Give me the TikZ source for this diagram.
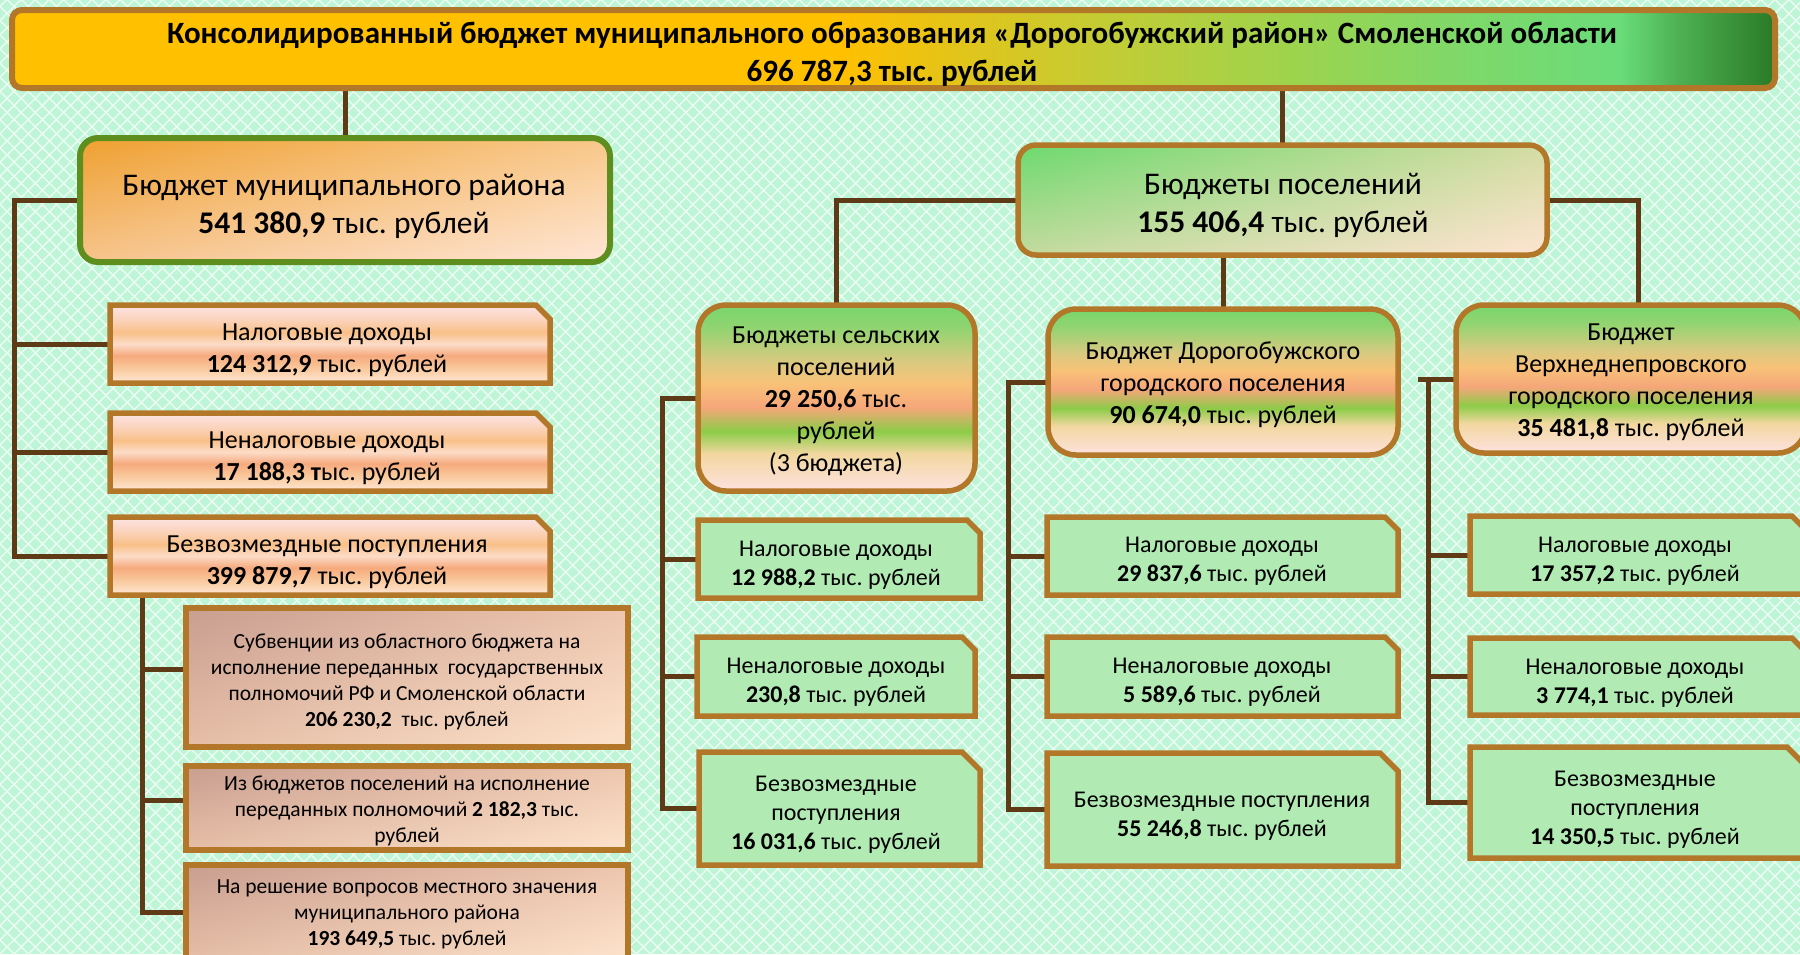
\documentclass[tikz,border=0pt]{standalone}
\usepackage{fontspec}
\setmainfont{Carlito}
\usetikzlibrary{shadings,patterns.meta}
\frenchspacing
\definecolor{bgC}{HTML}{BFF5D7}
\definecolor{bordC}{HTML}{B3772A}
\definecolor{connC}{HTML}{5E3A16}
\definecolor{grC}{HTML}{B1EBB3}
\definecolor{mrB}{HTML}{5E8E1E}
% banner
\definecolor{bA}{HTML}{FFC000}\definecolor{bB}{HTML}{E4C418}\definecolor{bC}{HTML}{C4CC34}
\definecolor{bD}{HTML}{9CD44E}\definecolor{bE}{HTML}{80D868}\definecolor{bF}{HTML}{6ADC7A}
\definecolor{bG}{HTML}{4CB052}\definecolor{bH}{HTML}{2A7A26}
\pgfdeclarehorizontalshading{bannershade}{100bp}{color(0bp)=(bA); color(25bp)=(bA); color(48.5bp)=(bA); color(51.6bp)=(bB); color(55.9bp)=(bC); color(61.5bp)=(bD); color(65.8bp)=(bE); color(70.6bp)=(bF); color(72.3bp)=(bG); color(75bp)=(bH); color(100bp)=(bH)}
% orange stripes
\definecolor{oa}{HTML}{FDE4E6}\definecolor{ob}{HTML}{FBD2B8}\definecolor{oc}{HTML}{F9C088}
\definecolor{od}{HTML}{FCDCC8}\definecolor{oe}{HTML}{F6AA7E}\definecolor{of}{HTML}{F9C79A}
\definecolor{og}{HTML}{FFE8D6}
\pgfdeclareverticalshading{orstripe}{100bp}{color(0bp)=(og); color(25bp)=(og); color(35bp)=(of); color(42.5bp)=(oe); color(50bp)=(od); color(57.5bp)=(oc); color(65bp)=(ob); color(75bp)=(oa); color(100bp)=(oa)}
% green stripes
\definecolor{ga}{HTML}{78D66C}\definecolor{gb}{HTML}{90D470}\definecolor{gc}{HTML}{D8CA80}
\definecolor{gd}{HTML}{F8C278}\definecolor{ge}{HTML}{F6A67A}\definecolor{gf}{HTML}{8CCC48}
\definecolor{gg}{HTML}{F2D7A0}\definecolor{gh}{HTML}{FDE2E0}
\pgfdeclareverticalshading{grstripe}{100bp}{color(0bp)=(gh); color(25bp)=(gh); color(35bp)=(gg); color(41bp)=(gf); color(47.5bp)=(ge); color(54bp)=(gd); color(60bp)=(gc); color(69bp)=(gb); color(75bp)=(ga); color(100bp)=(ga)}
% diagonal fills
\definecolor{mA}{HTML}{EFA030}\definecolor{mB}{HTML}{F8C88A}\definecolor{mC}{HTML}{F6C48C}\definecolor{mD}{HTML}{FFE6D6}
\definecolor{pA}{HTML}{6CDA6E}\definecolor{pB}{HTML}{D4DCA2}\definecolor{pC}{HTML}{C4DA9E}\definecolor{pD}{HTML}{FFE4D2}
\definecolor{sA}{HTML}{C89E90}\definecolor{sB}{HTML}{EEC6AE}\definecolor{sC}{HTML}{E6BEA6}\definecolor{sD}{HTML}{FDE3CC}
\newcommand\chamf[3]{%
  \path[#3] (#1.south west) -- (#1.north west) -- ([xshift=-#2pt]#1.north east) -- ([yshift=-#2pt]#1.north east) -- (#1.south east) -- cycle;}
\tikzset{
  ph/.style={rectangle, inner sep=0pt, outer sep=0pt, draw=none, fill=none},
  boxline/.style={draw=bordC, line width=5.5pt, line join=miter},
  conn/.style={draw=connC, line width=5pt, line cap=rect},
  txt/.style={align=center, inner sep=0pt, text=black},
  tTitle/.style={txt, font=\fontsize{31}{38}\selectfont\bfseries},
  tBig/.style={txt, font=\fontsize{31.5}{38}\selectfont},
  tMid/.style={txt, font=\fontsize{26}{32}\selectfont},
  tGrn/.style={txt, font=\fontsize{24}{29}\selectfont},
  tSmall/.style={txt, font=\fontsize{21.5}{26}\selectfont},
}
\begin{document}
\begin{tikzpicture}[x=1pt,y=-1pt]
\useasboundingbox (0,0) rectangle (1800,954);
\clip (0,0) rectangle (1800,954);
% background
\fill[bgC] (0,0) rectangle (1800,954);
\fill[pattern={Lines[angle=45,distance=10pt,line width=1.4pt]}, pattern color=white!70!bgC] (0,0) rectangle (1800,954);
\fill[pattern={Lines[angle=-45,distance=10pt,line width=1.4pt]}, pattern color=white!70!bgC] (0,0) rectangle (1800,954);

% placeholders
\node[ph, minimum width=1763, minimum height=78] (ban) at (893.5,49) {};
\node[ph, minimum width=530, minimum height=124] (mr) at (345,200) {};
\node[ph, minimum width=529, minimum height=110] (bp) at (1282.5,200) {};
\node[ph, minimum width=440, minimum height=78] (nal1) at (330,344) {};
\node[ph, minimum width=440, minimum height=78] (nen1) at (330,452) {};
\node[ph, minimum width=440, minimum height=78] (bez1) at (330,556) {};
\node[ph, minimum width=442, minimum height=139] (sub1) at (407,677.5) {};
\node[ph, minimum width=442, minimum height=84] (sub2) at (407,808) {};
\node[ph, minimum width=442, minimum height=95] (sub3) at (407,912.5) {};
\node[ph, minimum width=277, minimum height=186] (sel) at (836.5,398) {};
\node[ph, minimum width=282, minimum height=78] (sg1) at (839,559) {};
\node[ph, minimum width=278, minimum height=79] (sg2) at (836,676.5) {};
\node[ph, minimum width=281, minimum height=113] (sg3) at (839.5,808.5) {};
\node[ph, minimum width=350, minimum height=146] (dor) at (1223,382) {};
\node[ph, minimum width=351, minimum height=78] (dg1) at (1222.5,556) {};
\node[ph, minimum width=351, minimum height=79] (dg2) at (1222.5,676.5) {};
\node[ph, minimum width=351, minimum height=113] (dg3) at (1222.5,809.5) {};
\node[ph, minimum width=350, minimum height=148] (ver) at (1631,379) {};
\node[ph, minimum width=335, minimum height=78] (vg1) at (1637.5,555) {};
\node[ph, minimum width=335, minimum height=77] (vg2) at (1637.5,676.5) {};
\node[ph, minimum width=335, minimum height=111] (vg3) at (1637.5,802.5) {};

\coordinate (L1) at (14,556);
\coordinate (L2) at (142,912.5);
\coordinate (L3) at (662,808.5);
\coordinate (L4) at (1008,809.5);
\coordinate (L5) at (1428,802.5);

% connectors
\draw[conn] (mr.north |- ban.south) -- (mr.north);
\draw[conn] (bp.north |- ban.south) -- (bp.north);
\draw[conn] (mr.west) -| (L1) -- (bez1.west);
\draw[conn] (nal1.west) -- (nal1.west -| L1);
\draw[conn] (nen1.west) -- (nen1.west -| L1);
\draw[conn] (bez1.south -| L2) -- (L2) -- (sub3.west);
\draw[conn] ([yshift=8.5pt]sub1.west) -- ([yshift=8.5pt]sub1.west -| L2);
\draw[conn] ([yshift=8pt]sub2.west) -- ([yshift=8pt]sub2.west -| L2);
\draw[conn] (bp.west) -| (sel.north);
\draw[conn] (sel.west) -| (L3) -- (sg3.west);
\draw[conn] (sg1.west) -- (sg1.west -| L3);
\draw[conn] (sg2.west) -- (sg2.west -| L3);
\draw[conn] (dor.north |- bp.south) -- (dor.north);
\draw[conn] (dor.west) -| (L4) -- (dg3.west);
\draw[conn] (dg1.west) -- (dg1.west -| L4);
\draw[conn] (dg2.west) -- (dg2.west -| L4);
\draw[conn] (bp.east) -| ([xshift=7pt]ver.north);
\draw[conn] (ver.west) -- ++(-36,0);
\draw[conn] (ver.west -| L5) -- (L5) -- (vg3.west);
\draw[conn] (vg1.west) -- (vg1.west -| L5);
\draw[conn] (vg2.west) -- (vg2.west -| L5);

% boxes
\shadedraw[boxline, line width=6pt, rounded corners=10pt, shading=bannershade] (ban.north west) rectangle (ban.south east);
\shadedraw[draw=mrB, line width=6pt, rounded corners=18pt, upper left=mA, upper right=mB, lower left=mC, lower right=mD] (mr.north west) rectangle (mr.south east);
\shadedraw[boxline, rounded corners=18pt, upper left=pA, upper right=pB, lower left=pC, lower right=pD] (bp.north west) rectangle (bp.south east);
\chamf{nal1}{14}{boxline, shade, shading=orstripe}
\chamf{nen1}{14}{boxline, shade, shading=orstripe}
\chamf{bez1}{14}{boxline, shade, shading=orstripe}
\shadedraw[boxline, upper left=sA, upper right=sB, lower left=sC, lower right=sD] (sub1.north west) rectangle (sub1.south east);
\shadedraw[boxline, upper left=sA, upper right=sB, lower left=sC, lower right=sD] (sub2.north west) rectangle (sub2.south east);
\shadedraw[boxline, upper left=sA, upper right=sB, lower left=sC, lower right=sD] (sub3.north west) rectangle (sub3.south east);
\shadedraw[boxline, rounded corners=28pt, shading=grstripe] (sel.north west) rectangle (sel.south east);
\shadedraw[boxline, rounded corners=28pt, shading=grstripe] (dor.north west) rectangle (dor.south east);
\shadedraw[boxline, rounded corners=28pt, shading=grstripe] (ver.north west) rectangle (ver.south east);
\chamf{sg1}{13}{boxline, fill=grC}
\chamf{sg2}{13}{boxline, fill=grC}
\chamf{sg3}{18}{boxline, fill=grC}
\chamf{dg1}{13}{boxline, fill=grC}
\chamf{dg2}{13}{boxline, fill=grC}
\chamf{dg3}{18}{boxline, fill=grC}
\chamf{vg1}{13}{boxline, fill=grC}
\chamf{vg2}{13}{boxline, fill=grC}
\chamf{vg3}{18}{boxline, fill=grC}

% texts
\node[tTitle] (bant) at (892,54) {Консолидированный бюджет муниципального образования «Дорогобужский район» Смоленской области\\696 787,3 тыс. рублей};
\node[tBig] (mrt) at (344,206) {Бюджет муниципального района\\\textbf{541 380,9} тыс. рублей};
\node[tBig] (bpt) at (1283,205) {Бюджеты поселений\\\textbf{155 406,4} тыс. рублей};
\node[tMid] (nal1t) at (327,350) {Налоговые доходы\\\textbf{124 312,9} тыс. рублей};
\node[tMid] (nen1t) at (327,458) {Неналоговые доходы\\\textbf{17 188,3 т}ыс. рублей};
\node[tMid] (bez1t) at (327,562) {Безвозмездные поступления\\\textbf{399 879,7} тыс. рублей};
\node[tSmall] (sub1t) at (407,682) {Субвенции из областного бюджета на\\исполнение переданных\ \ государственных\\полномочий РФ и Смоленской области\\\textbf{206 230,2}\ \ тыс. рублей};
\node[tSmall] (sub2t) at (407,811) {Из бюджетов поселений на исполнение\\переданных полномочий \textbf{2 182,3} тыс.\\рублей};
\node[tSmall] (sub3t) at (407,914) {На решение вопросов местного значения\\муниципального района\\\textbf{193 649,5} тыс. рублей};
\node[tMid] (selt) at (836,401) {Бюджеты сельских\\поселений\\\textbf{29 250,6} тыс.\\рублей\\(3 бюджета)};
\node[tGrn] (sg1t) at (836,565) {Налоговые доходы\\\textbf{12 988,2} тыс. рублей};
\node[tGrn] (sg2t) at (836,682) {Неналоговые доходы\\\textbf{230,8} тыс. рублей};
\node[tGrn] (sg3t) at (836,815) {Безвозмездные\\поступления\\\textbf{16 031,6} тыс. рублей};
\node[tMid] (dort) at (1223,385) {Бюджет Дорогобужского\\городского поселения\\\textbf{90 674,0} тыс. рублей};
\node[tGrn] (dg1t) at (1222,561) {Налоговые доходы\\\textbf{29 837,6} тыс. рублей};
\node[tGrn] (dg2t) at (1222,682) {Неналоговые доходы\\\textbf{5 589,6} тыс. рублей};
\node[tGrn] (dg3t) at (1222,816) {Безвозмездные поступления\\\textbf{55 246,8} тыс. рублей};
\node[tMid] (vert) at (1631,382) {Бюджет\\Верхнеднепровского\\городского поселения\\\textbf{35 481,8} тыс. рублей};
\node[tGrn] (vg1t) at (1635,561) {Налоговые доходы\\\textbf{17 357,2} тыс. рублей};
\node[tGrn] (vg2t) at (1635,683) {Неналоговые доходы\\\textbf{3 774,1} тыс. рублей};
\node[tGrn] (vg3t) at (1635,810) {Безвозмездные\\поступления\\\textbf{14 350,5} тыс. рублей};
\end{tikzpicture}
\end{document}
